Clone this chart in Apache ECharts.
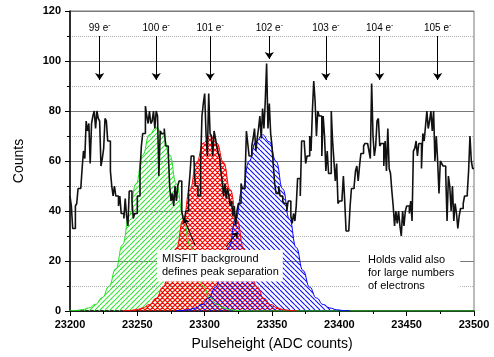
<!DOCTYPE html>
<html><head><meta charset="utf-8">
<script src="https://cdn.jsdelivr.net/npm/echarts@6/dist/echarts.min.js"></script>
<style>html,body{margin:0;padding:0;background:#fff}#c{width:494px;height:357px}</style>
</head><body><div id="c"></div>
<script>
// ---- data ----
const histStart = 23200, histBin = 1;
const counts = [
46,42,33,33,42,43,49,49,49,57,64,61,76,72,75,59,75,78,80,73,80,77,76,58,61,65,77,76,68,68,56,50,46,50,46,46,42,46,39,39,37,45,38,34,48,48,44,37,39,39,
46,46,56,66,71,71,82,78,75,80,75,76,80,73,80,78,54,72,71,71,73,66,66,63,50,44,47,42,50,44,50,52,52,40,37,36,40,40,48,54,62,62,61,50,50,46,46,59,78,83,
87,71,62,87,71,70,62,72,69,66,63,62,56,52,46,51,45,49,46,42,44,38,42,34,40,43,43,51,49,49,53,72,67,62,62,66,69,73,64,69,73,78,69,81,73,84,99,73,83,71,
66,58,51,47,47,50,46,46,44,43,43,40,44,44,38,35,39,36,42,53,53,46,68,68,67,59,62,62,70,64,80,92,84,70,80,78,78,62,78,70,56,64,55,55,80,68,60,52,59,43,
44,44,45,54,44,32,32,32,42,49,49,50,56,58,52,58,63,63,66,67,67,67,64,61,91,70,62,66,76,77,66,67,67,58,68,56,73,57,55,48,42,34,40,35,40,34,30,40,34,40,
42,42,39,44,36,64,65,68,62,67,67,57,71,68,74,80,73,76,80,72,80,60,70,60,47,60,59,58,58,55,36,54,50,40,50,36,43,39,33,38,41,41,43,46,46,47,56,70,60,57
];
const fitStep = 5;
const greenStart = 23199;
const greenFit = [0.07,0.2,0.52,1.24,2.7,5.4,9.9,16.9,26.5,38.2,50.9,62.4,70.6,73.5,70.6,62.4,50.9,38.2,26.5,16.9,9.9,5.4,2.7,1.24,0.52,0.2,0.07,
0,0,0,0,0,0,0,0,0,0,0,0,0,0,0,0,0,0,0,0,0,0,0,0,0,0,0,0,0,0,0,0,0,0,0];
const redStart = 23239;
const redFit = [0.07,0.2,0.5,1.18,2.6,5.1,9.5,16.1,25.2,36.4,48.5,59.4,67.2,70,67.2,59.4,48.5,36.4,25.2,16.1,9.5,5.1,2.6,1.18,0.5,0.2,0.07];
const blueStart = 23278;
const blueFit = [0.07,0.2,0.5,1.19,2.6,5.2,9.5,16.2,25.4,36.7,48.8,59.9,67.7,70.5,67.7,59.9,48.8,36.7,25.4,16.2,9.5,5.2,2.6,1.19,0.5,0.2,0.07];
const peakNames = ['99','100','101','102','103','104','105'];
const peakPos = [23222,23264,23304,23348,23390,23430,23473];
const arrowTop = [110,110,110,110,110,110,110];
const arrowTip = [92.4,92.4,92.4,100.8,92.4,92.4,92.4];
// valley pointer arrows [fromX, fromY, toX, toY] in data units
const valleyArrows = [[23292.8,26.4,23284.6,37.2],[23315.8,25.6,23324.7,31.6]];
const xTicks = {min:23200,max:23500,interval:50};
const yTicks = {min:0,max:120,interval:20};

// ---- build ----
const FONT = 'Liberation Sans, Arial, sans-serif';
function hatch(color, dir, size, lw){
  const c = document.createElement('canvas'); c.width = c.height = size;
  const g = c.getContext('2d'); g.strokeStyle = color; g.lineWidth = lw; g.beginPath();
  for (let k=-1;k<=1;k++){
    if (dir.indexOf('/')>=0){ g.moveTo(k*size, size); g.lineTo(k*size+size, 0); }
    if (dir.indexOf('\\')>=0){ g.moveTo(k*size, 0); g.lineTo(k*size+size, size); }
  }
  g.stroke();
  return {image:c, repeat:'repeat'};
}
const histData = counts.map((v,i)=>[histStart+i*histBin, v]);
histData.push([histStart+counts.length*histBin, counts[counts.length-1]]);
const fitData = (start, arr) => arr.map((v,i)=>[start+i*fitStep, v]);

const peakLines = peakNames.map((n,i)=>[{name:n, coord:[peakPos[i], arrowTop[i]]},{coord:[peakPos[i], arrowTip[i]]}]);
const valleyLines = valleyArrows.map(a=>[{coord:[a[0],a[1]]},{coord:[a[2],a[3]]}]);

function fitSeries(data, color, pattern){
  return {type:'line', data, smooth:true, smoothMonotone:'x', showSymbol:false, symbol:'none',
    lineStyle:{color, width:1}, areaStyle:{color:pattern, opacity:1}, z:2, silent:true};
}

const chart = echarts.init(document.getElementById('c'), null, {renderer:'canvas'});
chart.setOption({
  animation:false,
  textStyle:{fontFamily:FONT},
  grid:{left:70,right:20,top:11,bottom:46,show:true,borderColor:'#777',borderWidth:1},
  xAxis:{type:'value',min:xTicks.min,max:xTicks.max,interval:xTicks.interval,
    name:'Pulseheight (ADC counts)',nameLocation:'middle',nameGap:26,
    nameTextStyle:{fontSize:14,color:'#000',fontFamily:FONT},
    axisLine:{onZero:false,lineStyle:{color:'#000',width:1.5}},
    axisTick:{show:true,length:5,lineStyle:{color:'#000'}},
    minorTick:{show:true,splitNumber:2,length:3,lineStyle:{color:'#000'}},
    axisLabel:{color:'#000',fontWeight:'bold',fontSize:11,margin:8,fontFamily:FONT,formatter:v=>String(v)},
    splitLine:{show:false}},
  yAxis:{type:'value',min:yTicks.min,max:yTicks.max,interval:yTicks.interval,
    name:'Counts',nameLocation:'middle',nameGap:44,
    nameTextStyle:{fontSize:14,color:'#000',fontFamily:FONT},
    axisLine:{show:true,lineStyle:{color:'#000',width:1.5}},
    axisTick:{show:true,length:5,lineStyle:{color:'#000'}},
    minorTick:{show:true,splitNumber:2,length:3,lineStyle:{color:'#000'}},
    axisLabel:{color:'#000',fontWeight:'bold',fontSize:11,margin:9,fontFamily:FONT},
    splitLine:{show:true,lineStyle:{color:'#7a7a7a',width:1}},
    minorSplitLine:{show:true,lineStyle:{color:'#b0b0b0',type:'dotted',width:1}}},
  series:[
    fitSeries(fitData(greenStart, greenFit), '#22e022', hatch('#33e633','/',5,1.1)),
    fitSeries(fitData(redStart, redFit), '#ff0000', hatch('#ff0000','/\\',5,1.2)),
    fitSeries(fitData(blueStart, blueFit), '#0000ff', hatch('#1010ff','\\',5,1.1)),
    {type:'line', data:histData, step:'end', showSymbol:false, symbol:'none', z:4, silent:true,
      lineStyle:{color:'#111',width:1.6},
      markLine:{silent:true, animation:false, symbol:['none','arrow'], symbolSize:7,
        lineStyle:{color:'#000',type:'solid',width:1},
        label:{show:true, position:'start', distance:1, color:'#000', fontSize:10, fontFamily:FONT,
          formatter:p=>'{a|'+p.name+' e}{b|-}',
          rich:{a:{fontSize:10,color:'#000',fontFamily:FONT}, b:{fontSize:7,color:'#000',padding:[0,0,6,0],fontFamily:FONT}}},
        emphasis:{disabled:true},
        data:peakLines}},
    {type:'line', data:[], z:5, silent:true,
      markLine:{silent:true, animation:false, symbol:['none','arrow'], symbolSize:6,
        lineStyle:{color:'#000',type:'solid',width:1}, label:{show:false}, emphasis:{disabled:true},
        data:valleyLines}}
  ],
  graphic:[
    {type:'text', left:157, top:250, z:100, silent:true,
      style:{text:'MISFIT background\ndefines peak separation', font:'11px '+FONT, fill:'#000',
        backgroundColor:'#fff', padding:[3,4,3,5], lineHeight:12.7}},
    {type:'text', left:360, top:252, z:100, silent:true,
      style:{text:'Holds valid also\nfor large numbers\nof electrons', font:'11px '+FONT, fill:'#000',
        backgroundColor:'#fff', padding:[2,6,2,8], lineHeight:12.7}}
  ]
});
</script></body></html>
